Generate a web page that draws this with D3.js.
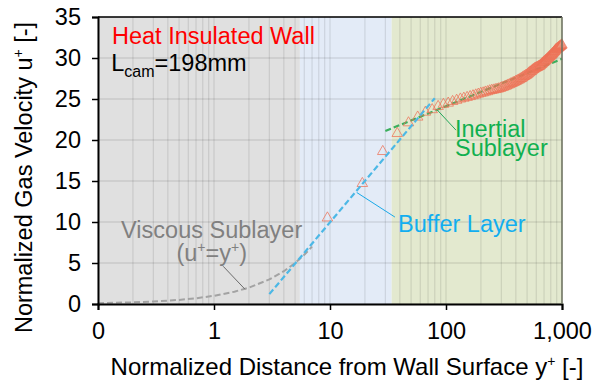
<!DOCTYPE html>
<html>
<head>
<meta charset="utf-8">
<script src="https://cdn.jsdelivr.net/npm/d3@7"></script>
<style>
  body { margin: 0; background: #fff; }
  svg { font-family: "Liberation Sans", Arial, sans-serif; }
</style>
</head>
<body>
<svg width="596" height="383"></svg>
<script>
// measured points (y+ vs u+)
var yPlus = [
  9.5, 19, 28.5, 38, 47.5, 57, 66.5, 76, 85.5, 95,
  104.5, 114, 123.5, 133, 142.5, 152, 161.5, 171, 180.5, 190,
  199.5, 209, 218.5, 228, 237.5, 247, 256.5, 266, 275.5, 285,
  294.5, 304, 313.5, 323, 332.5, 342, 351.5, 361, 370.5, 380,
  389.5, 399, 408.5, 418, 427.5, 437, 446.5, 456, 465.5, 475,
  484.5, 494, 503.5, 513, 522.5, 532, 541.5, 551, 560.5, 570,
  579.5, 589, 598.5, 608, 617.5, 627, 636.5, 646, 655.5, 665,
  674.5, 684, 693.5, 703, 712.5, 722, 731.5, 741, 750.5, 760,
  769.5, 779, 788.5, 798, 807.5, 817, 826.5, 836, 845.5, 855,
  864.5, 874, 883.5, 893, 902.5, 912, 921.5, 931, 940.5, 950,
  959.5, 969, 978.5, 988, 997.5
];
var uPlus = [
  10.5, 14.7, 18.6, 20.8, 22.1, 22.8, 23.4, 23.7, 24.1, 24.35,
  24.5, 24.7, 24.85, 25.0, 25.1, 25.2, 25.3, 25.4, 25.5, 25.6,
  25.7, 25.75, 25.85, 25.9, 26.0, 26.05, 26.1, 26.15, 26.2, 26.25,
  26.3, 26.4, 26.45, 26.55, 26.6, 26.7, 26.75, 26.85, 26.9, 27.0,
  27.05, 27.15, 27.2, 27.3, 27.35, 27.45, 27.5, 27.6, 27.7, 27.75,
  27.85, 27.9, 28.0, 28.1, 28.2, 28.3, 28.35, 28.45, 28.55, 28.6,
  28.7, 28.75, 28.8, 28.85, 28.9, 28.95, 29.0, 29.05, 29.15, 29.2,
  29.3, 29.4, 29.45, 29.55, 29.6, 29.7, 29.75, 29.85, 29.9, 30.0,
  30.05, 30.15, 30.2, 30.3, 30.35, 30.45, 30.5, 30.6, 30.65, 30.75,
  30.8, 30.9, 31.0, 31.05, 31.1, 31.15, 31.2, 31.25, 31.3, 31.35,
  31.4, 31.45, 31.5, 31.55, 31.6
];

// reference lines
var viscousY = [0.1, 0.2, 0.3, 0.5, 0.7, 1, 1.5, 2, 3, 4, 5, 6, 7];
var viscousU = [0.1, 0.2, 0.3, 0.5, 0.7, 1, 1.5, 2, 3, 4, 5, 6, 7];
var bufferY = [3, 80];
var bufferU = [1.2, 25.1];
var inertialY = [30, 1000];
var inertialU = [21.1, 29.9];

// background zones (y+ bounds)
var zoneStart = [0.1, 5.5, 34];
var zoneEnd = [5.5, 34, 1000];
var zoneColors = ["#e0e0e0", "#e3ebf7", "#e3e9cf"];

var xTicks = [0.1, 1, 10, 100, 1000];
var xTickLabels = ["0", "1", "10", "100", "1,000"];
var yTicks = [0, 5, 10, 15, 20, 25, 30, 35];

var svg = d3.select("svg");
var margin = { top: 17, right: 34, bottom: 79, left: 98 };
var width = 596, height = 383;
var plotW = width - margin.left - margin.right;
var plotH = height - margin.top - margin.bottom;

var x = d3.scaleLog().domain([0.1, 1000]).range([0, plotW]);
var y = d3.scaleLinear().domain([0, 35]).range([plotH, 0]);

var plot = svg.append("g")
  .attr("transform", "translate(" + margin.left + "," + margin.top + ")");

// zones
plot.selectAll("rect.zone")
  .data(zoneStart)
  .enter().append("rect")
  .attr("class", "zone")
  .attr("x", function(d) { return x(d); })
  .attr("y", 0)
  .attr("width", function(d, i) { return x(zoneEnd[i]) - x(d); })
  .attr("height", plotH)
  .attr("fill", function(d, i) { return zoneColors[i]; });

// grid
var gridX = [];
[0.1, 1, 10, 100].forEach(function(dec) {
  for (var k = 1; k <= 9; k++) gridX.push(dec * k);
});
gridX.push(1000);

plot.selectAll("line.vgrid")
  .data(gridX)
  .enter().append("line")
  .attr("x1", function(d) { return x(d); })
  .attr("x2", function(d) { return x(d); })
  .attr("y1", 0).attr("y2", plotH)
  .attr("stroke", "rgba(0,0,0,0.1)")
  .attr("stroke-width", 1.2);

plot.selectAll("line.hgrid")
  .data(yTicks)
  .enter().append("line")
  .attr("x1", 0).attr("x2", plotW)
  .attr("y1", function(d) { return y(d); })
  .attr("y2", function(d) { return y(d); })
  .attr("stroke", "rgba(0,0,0,0.1)")
  .attr("stroke-width", 1.5);

var line = d3.line()
  .x(function(d) { return x(d[0]); })
  .y(function(d) { return y(d[1]); });

// viscous sublayer u+=y+
plot.append("path")
  .datum(d3.zip(viscousY, viscousU))
  .attr("d", line)
  .attr("fill", "none")
  .attr("stroke", "#a3a3a3")
  .attr("stroke-width", 2)
  .attr("stroke-dasharray", "6,3");

// inertial sublayer (under the markers)
plot.append("path")
  .datum(d3.zip(inertialY, inertialU))
  .attr("d", line)
  .attr("fill", "none")
  .attr("stroke", "#3caf5e")
  .attr("stroke-width", 2.2)
  .attr("stroke-dasharray", "6,3");

// measured triangles
var tri = d3.symbol().type(d3.symbolTriangle).size(48);
plot.selectAll("path.pt")
  .data(d3.zip(yPlus, uPlus))
  .enter().append("path")
  .attr("class", "pt")
  .attr("d", tri)
  .attr("transform", function(d) { return "translate(" + x(d[0]) + "," + y(d[1]) + ")"; })
  .attr("fill", "none")
  .attr("stroke", "#ee7257")
  .attr("stroke-opacity", 0.75)
  .attr("stroke-width", 1);

// buffer layer
plot.append("path")
  .datum(d3.zip(bufferY, bufferU))
  .attr("d", line)
  .attr("fill", "none")
  .attr("stroke", "#4cb8e6")
  .attr("stroke-width", 2.2)
  .attr("stroke-dasharray", "6,3");

// leaders
var leaders = [
  { from: [1.2, 4.6], to: [1.85, 1.8], color: "#6b6b6b" },
  { from: [17, 13.6], to: [36.3, 10.6], color: "#1aa9e8" },
  { from: [83.6, 23.7], to: [122, 21.2], color: "#22a85a" }
];
plot.selectAll("line.leader")
  .data(leaders)
  .enter().append("line")
  .attr("x1", function(d) { return x(d.from[0]); })
  .attr("y1", function(d) { return y(d.from[1]); })
  .attr("x2", function(d) { return x(d.to[0]); })
  .attr("y2", function(d) { return y(d.to[1]); })
  .attr("stroke", function(d) { return d.color; })
  .attr("stroke-width", 1);

// annotations
var fs = 23.5;
function addText(t, xv, yv, color, anchor) {
  return plot.append("text")
    .attr("x", x(xv)).attr("y", y(yv))
    .attr("fill", color)
    .attr("text-anchor", anchor || "start")
    .style("font-size", fs + "px")
    .text(t);
}
// superscript "+" helper (px offsets so baseline comes back exactly)
function sup(sel) {
  sel.append("tspan").attr("dy", "-9px").style("font-size", "14px").text("+");
}

addText("Heat Insulated Wall", 0.132, 31.7, "#ff0000");
var lc = plot.append("text")
  .attr("x", x(0.13)).attr("y", y(28.4))
  .attr("fill", "#000")
  .style("font-size", fs + "px");
lc.append("tspan").text("L");
lc.append("tspan").attr("dy", "6px").style("font-size", "16px").text("cam");
lc.append("tspan").attr("dy", "-6px").text("=198mm");

addText("Viscous Sublayer", 0.955, 8.05, "#808080", "middle");
var vs = plot.append("text")
  .attr("x", x(0.955)).attr("y", y(5.3))
  .attr("fill", "#808080")
  .attr("text-anchor", "middle")
  .style("font-size", fs + "px");
vs.append("tspan").text("(u");
sup(vs);
vs.append("tspan").attr("dy", "9px").text("=y");
sup(vs);
vs.append("tspan").attr("dy", "9px").text(")");

addText("Buffer Layer", 38.6, 8.8, "#12aef0");
addText("Inertial", 119.6, 20.4, "#11b04f");
addText("Sublayer", 119.6, 18.0, "#11b04f");

// axes
var yAxis = d3.axisLeft(y).tickValues(yTicks).tickSize(6).tickPadding(11);
var yG = plot.append("g").call(yAxis);
yG.select(".domain").attr("stroke-width", 2);
yG.selectAll(".tick line").attr("stroke-width", 1.5);
yG.selectAll("text").style("font-size", fs + "px").attr("fill", "#000");

var xAxis = d3.axisBottom(x).tickValues(xTicks).tickSize(6).tickPadding(12)
  .tickFormat(function(d, i) { return xTickLabels[i]; });
var xG = plot.append("g").attr("transform", "translate(0," + plotH + ")").call(xAxis);
xG.select(".domain").attr("stroke-width", 2);
xG.selectAll(".tick line").attr("stroke-width", 1.5);
xG.selectAll("text").style("font-size", fs + "px").attr("fill", "#000");

// top / right frame
plot.append("line").attr("x1", 0).attr("x2", plotW).attr("y1", 0).attr("y2", 0)
  .attr("stroke", "#000").attr("stroke-width", 1.5);
plot.append("line").attr("x1", plotW).attr("x2", plotW).attr("y1", 0).attr("y2", plotH)
  .attr("stroke", "#6b705e").attr("stroke-width", 1.5);

// axis titles
var xt = svg.append("text")
  .attr("x", 347)
  .attr("y", 375)
  .attr("text-anchor", "middle")
  .style("font-size", "24px");
xt.append("tspan").text("Normalized Distance from Wall Surface y");
sup(xt);
xt.append("tspan").attr("dy", "9px").text(" [-]");

var yt = svg.append("text")
  .attr("transform", "translate(32," + (margin.top + plotH / 2 + 17) + ") rotate(-90)")
  .attr("text-anchor", "middle")
  .style("font-size", fs + "px");
yt.append("tspan").text("Normalized Gas Velocity u");
sup(yt);
yt.append("tspan").attr("dy", "9px").text(" [-]");
</script>
</body>
</html>
